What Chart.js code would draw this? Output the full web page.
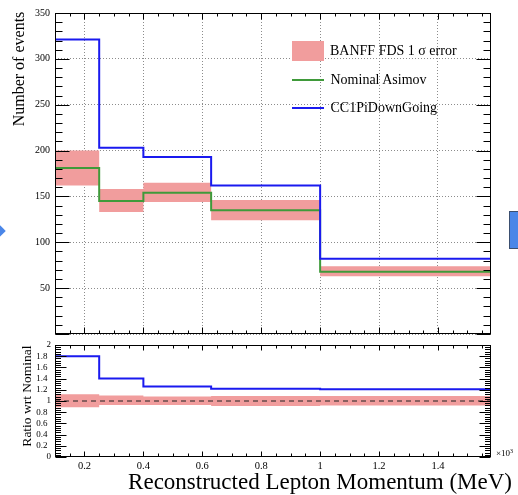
<!DOCTYPE html>
<html>
<head>
<meta charset="utf-8">
<script src="https://cdn.jsdelivr.net/npm/chart.js@4.4.1/dist/chart.umd.min.js"></script>
<style>
  html, body { margin:0; padding:0; background:#fff; width:518px; height:495px; overflow:hidden; position:relative; font-family:'Liberation Serif','Times New Roman',serif; color:#000; }
  canvas { position:absolute; left:0; }
  #cTop { top:0; }
  #cRatio { top:335px; }
  .txt { position:absolute; white-space:nowrap; color:#000; }
</style>
</head>
<body>
<canvas id="cTop" width="518" height="345"></canvas>
<canvas id="cRatio" width="518" height="160"></canvas>

<!-- slide decorations outside the plot -->
<div style="position:absolute;left:-3.6px;top:226.7px;width:8.2px;height:8.2px;background:#4a86e8;transform:rotate(45deg);"></div>
<div style="position:absolute;left:509px;top:211px;width:20px;height:36px;background:#4a86e8;border:1px solid #3b4f70;"></div>

<!-- legend -->
<div id="legBox" style="position:absolute;left:292px;top:41px;width:32px;height:20px;"></div>
<div id="legGreen" style="position:absolute;left:292px;top:79px;width:32px;height:2px;"></div>
<div id="legBlue" style="position:absolute;left:292px;top:107px;width:32px;height:2px;"></div>
<div class="txt" id="legT1" style="left:330px;top:43.6px;font-size:14px;line-height:14px;"></div>
<div class="txt" id="legT2" style="left:330.5px;top:72.6px;font-size:14px;line-height:14px;"></div>
<div class="txt" id="legT3" style="left:330.5px;top:101px;font-size:14px;line-height:14px;"></div>

<!-- axis titles -->
<div class="txt" style="left:18.6px;top:68.5px;font-size:16px;line-height:16px;transform:translate(-50%,-50%) rotate(-90deg);">Number of events</div>
<div class="txt" style="left:27.2px;top:396px;font-size:13.5px;line-height:13.5px;transform:translate(-50%,-50%) rotate(-90deg);">Ratio wrt Nominal</div>
<div class="txt" style="right:6px;top:469.7px;font-size:23px;line-height:23px;">Reconstructed Lepton Momentum (MeV)</div>
<div class="txt" style="left:496px;top:449px;font-size:9px;line-height:9px;">×10<sup style="font-size:6px;vertical-align:top;position:relative;top:-2px;">3</sup></div>

<script>
// ---------------- data (momentum in units of 10^3 MeV) ----------------
const binEdges        = [0.1, 0.25, 0.4, 0.63, 1.0, 1.58];
const nominalAsimov   = [181, 145, 154, 135, 68];
const cc1PiDownGoing  = [321, 203, 193, 162, 82];
const banffLow        = [162, 133, 144, 124, 63];
const banffHigh       = [200, 158, 165, 146, 74];
const ratioDownGoing  = [1.80, 1.40, 1.26, 1.22, 1.21];
const ratioNominal    = [1, 1, 1, 1, 1];
const ratioBandLow    = [0.89, 0.93, 0.93, 0.91, 0.92];
const ratioBandHigh   = [1.12, 1.10, 1.08, 1.09, 1.09];
const xTickValues     = [0.2, 0.4, 0.6, 0.8, 1.0, 1.2, 1.4];
const xTickLabels     = ['0.2', '0.4', '0.6', '0.8', '1', '1.2', '1.4'];
const legendLabels    = ['BANFF FDS 1 σ error', 'Nominal Asimov', 'CC1PiDownGoing'];

// ---------------- styles ----------------
const BLUE = '#1a1aef';
const GREEN = '#3f9a3a';
const BAND = '#f19d9d';
const GRID = '#8c8c8c';
const SERIF = "'Liberation Serif','Times New Roman',serif";
Chart.defaults.font.family = SERIF;
Chart.defaults.color = '#000';

document.getElementById('legBox').style.background = BAND;
document.getElementById('legGreen').style.background = GREEN;
document.getElementById('legBlue').style.background = BLUE;
document.getElementById('legT1').textContent = legendLabels[0];
document.getElementById('legT2').textContent = legendLabels[1];
document.getElementById('legT3').textContent = legendLabels[2];

function stepPoints(vals) {
  return binEdges.map((x, i) => ({ x: x, y: vals[Math.min(i, vals.length - 1)] }));
}
function xLabel(v) {
  const i = xTickValues.findIndex(t => Math.abs(t - v) < 1e-6);
  return i >= 0 ? xTickLabels[i] : '';
}

// ROOT-like frame with inward ticks on all four sides
const rootFrame = {
  id: 'rootFrame',
  afterDatasetsDraw(chart, args, o) {
    const { ctx, chartArea: a, scales: { x, y } } = chart;
    const L = Math.round(a.left) + 0.5, R = Math.round(a.right) - 0.5;
    const T = Math.round(a.top) + 0.5, B = Math.round(a.bottom) - 0.5;
    ctx.save();
    ctx.setLineDash([]);
    ctx.strokeStyle = '#000';
    ctx.lineWidth = 1;
    ctx.strokeRect(L, T, R - L, B - T);
    ctx.beginPath();
    const isMaj = (v, m) => Math.abs(v / m - Math.round(v / m)) < 1e-6;
    let k0 = Math.ceil(x.min / o.xMinor - 1e-6), k1 = Math.floor(x.max / o.xMinor + 1e-6);
    for (let k = k0; k <= k1; k++) {
      const v = k * o.xMinor;
      const px = Math.round(x.getPixelForValue(v)) + 0.5;
      const len = isMaj(v, o.xMajor) ? o.xMajorLen : o.xMinorLen;
      ctx.moveTo(px, B); ctx.lineTo(px, B - len);
      ctx.moveTo(px, T); ctx.lineTo(px, T + len);
    }
    k0 = Math.ceil(y.min / o.yMinor - 1e-6); k1 = Math.floor(y.max / o.yMinor + 1e-6);
    for (let k = k0; k <= k1; k++) {
      const v = k * o.yMinor;
      const py = Math.round(y.getPixelForValue(v)) + 0.5;
      const len = isMaj(v, o.yMajor) ? o.yMajorLen : o.yMinorLen;
      ctx.moveTo(L, py); ctx.lineTo(L + len, py);
      ctx.moveTo(R, py); ctx.lineTo(R - len, py);
    }
    ctx.stroke();
    ctx.restore();
  }
};

const lineDs = (label, vals, color, width, extra) => Object.assign({
  label: label, data: stepPoints(vals), stepped: true, borderColor: color,
  borderWidth: width, pointRadius: 0, pointHoverRadius: 0, fill: false
}, extra || {});

// ---------------- top panel ----------------
new Chart(document.getElementById('cTop'), {
  type: 'line',
  data: {
    datasets: [
      lineDs(legendLabels[2], cc1PiDownGoing, BLUE, 2),
      lineDs(legendLabels[1], nominalAsimov, GREEN, 2),
      lineDs(legendLabels[0], banffHigh, 'rgba(0,0,0,0)', 1, { backgroundColor: BAND, fill: '+1' }),
      lineDs('BANFF low', banffLow, 'rgba(0,0,0,0)', 1)
    ]
  },
  options: {
    responsive: false, animation: false, devicePixelRatio: 1,
    layout: { padding: { left: 0, top: 13, right: 27, bottom: 0 } },
    plugins: {
      legend: { display: false }, tooltip: { enabled: false },
      rootFrame: { xMajor: 0.2, xMinor: 0.05, xMajorLen: 6, xMinorLen: 3, yMajor: 50, yMinor: 10, yMajorLen: 14, yMinorLen: 7 }
    },
    scales: {
      x: {
        type: 'linear', min: binEdges[0], max: binEdges[binEdges.length - 1],
        afterBuildTicks: s => { s.ticks = xTickValues.map(v => ({ value: v })); },
        ticks: { display: false },
        grid: { color: GRID, drawTicks: false, lineWidth: 1 },
        border: { display: false, dash: [1, 2] },
        afterFit: s => { s.height = 1; }
      },
      y: {
        min: 0, max: 350,
        ticks: { stepSize: 50, padding: 5, autoSkip: false, font: { size: 10 }, callback: v => (v === 0 ? '' : String(v)) },
        grid: { color: GRID, drawTicks: false, lineWidth: 1 },
        border: { display: false, dash: [1, 2] },
        afterFit: s => { s.width = 55; }
      }
    }
  },
  plugins: [rootFrame]
});

// ---------------- ratio panel ----------------
new Chart(document.getElementById('cRatio'), {
  type: 'line',
  data: {
    datasets: [
      lineDs('CC1PiDownGoing / Nominal', ratioDownGoing, BLUE, 2),
      lineDs('Nominal / Nominal', ratioNominal, '#222', 1, { borderDash: [5, 4] }),
      lineDs('BANFF ratio high', ratioBandHigh, 'rgba(0,0,0,0)', 1, { backgroundColor: BAND, fill: '+1' }),
      lineDs('BANFF ratio low', ratioBandLow, 'rgba(0,0,0,0)', 1)
    ]
  },
  options: {
    responsive: false, animation: false, devicePixelRatio: 1,
    layout: { padding: { left: 0, top: 10, right: 27, bottom: 0 } },
    plugins: {
      legend: { display: false }, tooltip: { enabled: false },
      rootFrame: { xMajor: 0.2, xMinor: 0.05, xMajorLen: 5, xMinorLen: 3, yMajor: 0.2, yMinor: 0.04, yMajorLen: 11, yMinorLen: 5.5 }
    },
    scales: {
      x: {
        type: 'linear', min: binEdges[0], max: binEdges[binEdges.length - 1],
        afterBuildTicks: s => { s.ticks = xTickValues.map(v => ({ value: v })); },
        ticks: { padding: 3, font: { size: 10.5 }, maxRotation: 0, autoSkip: false, callback: v => xLabel(v) },
        grid: { display: false, drawTicks: false },
        border: { display: false },
        afterFit: s => { s.height = 38; }
      },
      y: {
        min: 0, max: 2,
        ticks: {
          stepSize: 0.2, padding: 4, autoSkip: false, font: { size: 9 },
          callback: v => { const r = Math.round(v * 10) / 10; return Number.isInteger(r) ? String(r) : String(r) + '\u2009\u2009'; }
        },
        grid: { display: false, drawTicks: false },
        border: { display: false },
        afterFit: s => { s.width = 55; }
      }
    }
  },
  plugins: [rootFrame]
});
</script>
</body>
</html>
